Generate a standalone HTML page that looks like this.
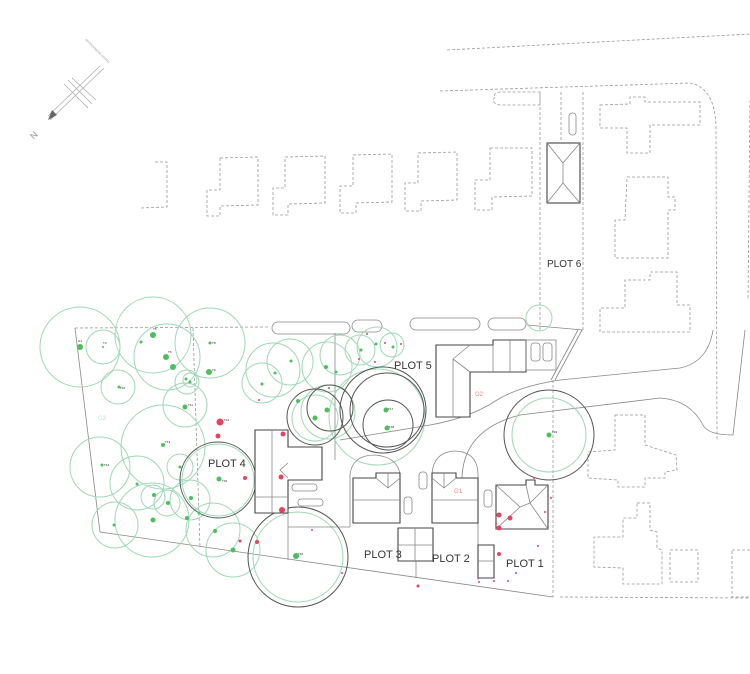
<!DOCTYPE html>
<html><head><meta charset="utf-8"><style>
html,body{margin:0;padding:0;background:#fff;}
svg{display:block;}
.d{fill:none;stroke:#999;stroke-width:0.8;stroke-dasharray:3 2;}
.g{fill:none;stroke:#9fd8b8;stroke-width:1;}
.k{fill:none;stroke:#555;stroke-width:1;}
.b{fill:#fff;stroke:#444;stroke-width:1.1;}
.l{fill:none;stroke:#888;stroke-width:0.8;}
.gd{fill:#4cbf5c;}
.rd{fill:#e8435e;}
.t{font-family:"Liberation Sans",sans-serif;font-size:11px;fill:#333;}
.s{font-family:"Liberation Sans",sans-serif;font-size:3px;fill:#222;}
</style></head><body>
<svg width="750" height="674" viewBox="0 0 750 674" xmlns="http://www.w3.org/2000/svg">
<!-- north arrow -->
<g stroke="#aaa" stroke-width="0.7" fill="none">
<line x1="104" y1="68" x2="50" y2="120"/><line x1="100" y1="66" x2="48" y2="116"/>
<line x1="68" y1="80" x2="92" y2="104"/><line x1="64" y1="84" x2="88" y2="108"/><line x1="72" y1="78" x2="96" y2="100"/>
</g>
<polygon points="48,120 52,110 57,115" fill="#666"/>
<text x="28" y="138" class="t" style="font-size:9px;fill:#999" transform="rotate(-45 33 132)">N</text>
<text x="85" y="40" style="font-family:'Liberation Sans';font-size:3px;fill:#999" transform="rotate(45 85 40)">APPROXIMATE NORTH</text>

<!-- roads top -->
<path class="d" d="M447,50 L750,34"/>
<path class="d" d="M440,91 L690,83 Q716,88 716,130 L717,440"/>
<path class="d" d="M750,100 L748,300"/>
<!-- plot 6 strip -->
<path class="d" d="M540,92 L540,330"/>
<path class="d" d="M561,92 L561,140"/>
<path class="d" d="M583,92 L583,330"/>
<path class="d" d="M495,97 Q490,103 500,105 L540,105 L540,92 L500,92 Q493,93 495,97Z"/>
<rect x="547" y="143" width="33" height="60" class="b"/>
<path class="l" d="M547,143 L563,163 L580,143 M563,163 L563,183 M547,203 L563,183 L580,203"/>
<rect x="569" y="113" width="7" height="22" rx="3" class="l"/>
<text x="547" y="267" class="t" style="font-size:10px">PLOT 6</text>
<!-- dashed houses row -->
<path class="d" d="M155,162 L167,162 L167,207 L140,208"/>
<path class="d" d="M220,158 L258,157 L258,205 L220,206 L220,216 L207,216 L207,190 L220,190Z"/>
<path class="d" d="M285,157 L325,156 L325,203 L288,204 L288,215 L273,215 L273,188 L285,188Z"/>
<path class="d" d="M353,155 L392,154 L392,202 L356,203 L356,213 L340,213 L340,186 L353,186Z"/>
<path class="d" d="M418,153 L457,152 L457,200 L421,201 L421,211 L405,211 L405,183 L418,183Z"/>
<path class="d" d="M490,148 L532,148 L532,196 L492,197 L492,210 L475,210 L475,180 L490,180Z"/>
<!-- right houses -->
<path class="d" d="M600,105 L630,104 L630,97 L645,97 L645,102 L700,102 L700,125 L650,125 L650,153 L627,153 L627,128 L600,128Z"/>
<path class="d" d="M627,177 L668,177 L668,197 L675,197 L675,210 L668,210 L668,258 L615,258 L615,220 L625,220Z"/>
<path class="d" d="M650,272 L677,272 L677,305 L690,305 L690,332 L600,332 L600,308 L625,308 L625,280 L650,280Z"/>
<!-- lower right houses -->
<path class="d" d="M615,415 L645,415 L645,445 L676,455 L677,470 L665,472 L665,478 L645,478 L645,487 L618,487 L618,480 L588,478 L588,452 L615,450Z"/>
<path class="d" d="M637,503 L650,503 L650,530 L657,532 L657,548 L662,550 L662,584 L623,584 L623,568 L594,567 L594,537 L623,537 L623,518 L637,518Z"/>
<rect x="670" y="550" width="28" height="32" class="d"/>
<rect x="732" y="550" width="20" height="47" class="d"/>
<path class="d" d="M560,597 L750,598"/>
<path class="d" d="M553,380 L553,597"/>
<!-- roads lower -->
<path class="l" d="M340,440 L430,425 Q470,418 497,400 Q520,386 560,380 L680,368 Q708,362 713,330"/>
<path class="l" d="M462,480 Q462,430 520,415 L660,398 Q690,400 703,425 Q708,435 733,435 L745,330"/>
<path class="l" d="M551,380 L578,330 M555,380 L582,330"/>
<path class="l" d="M527,325 L583,330"/>
<!-- site boundary -->
<path class="d" d="M75,328 L270,327"/>
<path class="l" d="M75,328 L100,532 L553,597"/>
<path class="d" d="M193,328 L200,548"/>
<!-- hedges -->
<rect x="272" y="322" width="78" height="12" rx="6" class="l"/>
<rect x="352" y="320" width="30" height="12" rx="6" class="l"/>
<rect x="410" y="318" width="70" height="12" rx="6" class="l"/>
<rect x="488" y="318" width="38" height="12" rx="6" class="l"/>
<path class="l" d="M335,333 L335,460"/>
<!-- green RPA circles -->
<g class="g">
<circle cx="80" cy="347" r="40"/><circle cx="103" cy="347" r="17"/><circle cx="153" cy="335" r="38"/>
<circle cx="167" cy="357" r="33"/><circle cx="210" cy="343" r="35"/><circle cx="118" cy="387" r="17"/>
<circle cx="185" cy="405" r="22"/><circle cx="163" cy="447" r="42"/><circle cx="100" cy="467" r="30"/>
<circle cx="137" cy="483" r="27"/><circle cx="153" cy="497" r="12"/><circle cx="152" cy="520" r="37"/>
<circle cx="115" cy="525" r="23"/><circle cx="167" cy="503" r="13"/><circle cx="190" cy="500" r="20"/>
<circle cx="213" cy="530" r="27"/><circle cx="233" cy="550" r="27"/><circle cx="180" cy="467" r="13"/>
<circle cx="187" cy="382" r="12"/><circle cx="190" cy="380" r="7"/>
<circle cx="290" cy="362" r="23"/><circle cx="273" cy="370" r="27"/><circle cx="262" cy="383" r="20"/>
<circle cx="327" cy="367" r="25"/><circle cx="377" cy="347" r="20"/><circle cx="392" cy="345" r="12"/>
<circle cx="360" cy="350" r="15"/><circle cx="340" cy="355" r="20"/>
<circle cx="377" cy="417" r="48"/><circle cx="315" cy="418" r="23"/><circle cx="328" cy="412" r="27"/>
<circle cx="218" cy="480" r="36"/><circle cx="298" cy="557" r="45"/>
<circle cx="549" cy="435" r="37"/><circle cx="539" cy="318" r="13"/>
</g>
<!-- dark circles -->
<g class="k">
<circle cx="218" cy="480" r="38"/><circle cx="298" cy="557" r="50"/>
<circle cx="315" cy="417" r="28"/><circle cx="330" cy="408" r="23"/>
<circle cx="387" cy="410" r="37"/><circle cx="388" cy="425" r="25"/><circle cx="383" cy="410" r="43"/>
<circle cx="549" cy="435" r="45"/>
</g>
<!-- plot 4 building -->
<path class="b" d="M255,430 L288,430 L288,447 L322,447 L322,480 L288,480 L288,513 L255,513Z"/>
<path class="l" d="M255,497 L288,497 M272,430 L272,513 M288,463 L280,470 L288,478"/>
<rect x="292" y="484" width="25" height="7" rx="3" class="l"/><rect x="298" y="499" width="25" height="7" rx="3" class="l"/>
<path class="l" d="M288,527 L350,527 M288,513 L288,560"/>
<!-- plot 5 building -->
<path class="b" d="M436,345 L493,345 L493,340 L526,340 L526,372 L470,372 L470,417 L436,417Z"/>
<path class="l" d="M510,340 L510,372 M493,345 L493,372 M453,359 L470,345 M453,359 L470,372 M453,359 L453,417"/>
<rect x="531" y="343" width="9" height="18" rx="3" class="l"/><rect x="543" y="343" width="9" height="18" rx="3" class="l"/>
<rect x="526" y="340" width="30" height="30" class="l"/>
<text x="475" y="396" style="font-family:'Liberation Sans';font-size:6px;fill:#e88">G2</text>
<!-- driveways plot 3/2 -->
<path class="l" d="M350,527 L350,475 Q352,455 375,455 Q398,457 400,475"/>
<path class="l" d="M432,475 Q433,452 455,451 Q478,452 478,475 L478,580"/>
<path class="l" d="M416,561 L416,578"/>
<rect x="419" y="472" width="8" height="17" rx="3" class="l"/><rect x="404" y="497" width="8" height="17" rx="3" class="l"/>
<rect x="484" y="490" width="8" height="17" rx="3" class="l"/>
<!-- plot 3 -->
<path class="b" d="M353,478 L376,478 L376,473 L400,473 L400,523 L353,523Z"/>
<path class="l" d="M353,500 L400,500 M376,478 L388,488 L400,478 M388,473 L388,488"/>
<path class="b" d="M398,528 L433,528 L433,561 L398,561Z"/>
<path class="l" d="M415,528 L415,561 M398,545 L433,545"/>
<!-- plot 2 -->
<path class="b" d="M432,478 L432,473 L456,473 L456,478 L478,478 L478,523 L432,523Z"/>
<path class="l" d="M432,500 L478,500 M432,478 L444,488 L456,478 M444,473 L444,488"/>
<text x="454" y="493" style="font-family:'Liberation Sans';font-size:6px;fill:#e88">G1</text>
<!-- plot 1 -->
<path class="b" d="M496,485 L526,485 L526,480 L535,480 L535,485 L548,485 L548,529 L496,529Z"/>
<path class="l" d="M496,485 L520,507 L496,529 M548,485 L530,503 L548,529 M520,507 L530,503 M526,485 L530,503"/>
<path class="b" d="M478,545 L494,545 L494,578 L478,578Z"/>
<path class="l" d="M478,561 L494,561"/>
<!-- green tree dots -->
<g class="gd">
<circle cx="80" cy="347" r="3"/><circle cx="103" cy="347" r="1"/><circle cx="153" cy="335" r="3"/><circle cx="141" cy="342" r="1.5"/>
<circle cx="166" cy="357" r="3"/><circle cx="173" cy="367" r="3"/><circle cx="210" cy="343" r="1.5"/><circle cx="209" cy="372" r="3"/>
<circle cx="186" cy="379" r="1.5"/><circle cx="190" cy="382" r="1.5"/><circle cx="119" cy="387" r="1.5"/><circle cx="185" cy="407" r="2.5"/>
<circle cx="163" cy="445" r="2"/><circle cx="180" cy="467" r="1.5"/><circle cx="102" cy="465" r="1.5"/><circle cx="137" cy="484" r="1.5"/>
<circle cx="154" cy="495" r="2"/><circle cx="168" cy="503" r="2"/><circle cx="191" cy="498" r="2"/><circle cx="153" cy="520" r="2.5"/>
<circle cx="114" cy="525" r="1.5"/><circle cx="187" cy="518" r="2"/><circle cx="199" cy="513" r="1.5"/><circle cx="219" cy="479" r="2.5"/>
<circle cx="215" cy="531" r="2"/><circle cx="233" cy="550" r="2.5"/><circle cx="296" cy="556" r="3"/>
<circle cx="291" cy="361" r="1.5"/><circle cx="275" cy="373" r="1.5"/><circle cx="262" cy="384" r="1.5"/><circle cx="326" cy="367" r="2"/>
<circle cx="336" cy="372" r="1.5"/><circle cx="298" cy="401" r="2"/><circle cx="315" cy="418" r="2.5"/><circle cx="327" cy="410" r="2.5"/>
<circle cx="386" cy="410" r="2.5"/><circle cx="387" cy="428" r="2.5"/><circle cx="361" cy="350" r="1.5"/><circle cx="376" cy="344" r="1.5"/>
<circle cx="549" cy="435" r="2.5"/><circle cx="393" cy="347" r="1.5"/>
</g>
<!-- red dots -->
<g class="rd">
<circle cx="220" cy="422" r="3.5"/><circle cx="218" cy="436" r="2.5"/><circle cx="245" cy="478" r="2"/><circle cx="283" cy="434" r="2.5"/>
<circle cx="281" cy="477" r="2.5"/><circle cx="282" cy="510" r="3"/><circle cx="257" cy="542" r="2"/><circle cx="240" cy="541" r="1.5"/>
<circle cx="312" cy="530" r="1"/><circle cx="342" cy="573" r="1"/><circle cx="259" cy="400" r="1"/><circle cx="329" cy="388" r="1"/>
<circle cx="367" cy="334" r="1"/><circle cx="359" cy="359" r="1"/><circle cx="385" cy="343" r="1"/><circle cx="401" cy="344" r="1"/>
<circle cx="375" cy="362" r="1"/><circle cx="418" cy="586" r="1.5"/><circle cx="499" cy="515" r="2.5"/><circle cx="510" cy="518" r="2.5"/>
<circle cx="499" cy="528" r="2.5"/><circle cx="496" cy="524" r="1"/><circle cx="499" cy="554" r="2"/><circle cx="538" cy="546" r="1"/>
<circle cx="545" cy="512" r="1"/><circle cx="551" cy="498" r="1"/><circle cx="534" cy="478" r="1"/><circle cx="516" cy="573" r="1"/>
<circle cx="494" cy="581" r="1"/><circle cx="508" cy="581" r="1"/><circle cx="479" cy="582" r="1"/>
</g>
<!-- tiny tree labels -->
<g class="s">
<text x="78" y="342">G1</text><text x="103" y="344">T4</text><text x="153" y="330">T5</text><text x="168" y="353">T6</text>
<text x="212" y="344">T8</text><text x="212" y="371">T9</text><text x="120" y="389">T10</text><text x="188" y="406">T11</text>
<text x="224" y="421">T12</text><text x="165" y="443">T13</text><text x="104" y="466">T14</text><text x="222" y="482">T15</text>
<text x="298" y="555">T16</text><text x="388" y="410">T17</text><text x="389" y="428">T18</text><text x="552" y="433">T19</text>
</g>
<!-- labels -->
<text x="98" y="420" style="font-family:'Liberation Sans';font-size:6px;fill:#bfe3cc">G3</text>
<text x="208" y="467" class="t">PLOT 4</text>
<text x="394" y="369" class="t">PLOT 5</text>
<text x="364" y="558" class="t">PLOT 3</text>
<text x="432" y="562" class="t">PLOT 2</text>
<text x="506" y="567" class="t">PLOT 1</text>
</svg>
</body></html>
